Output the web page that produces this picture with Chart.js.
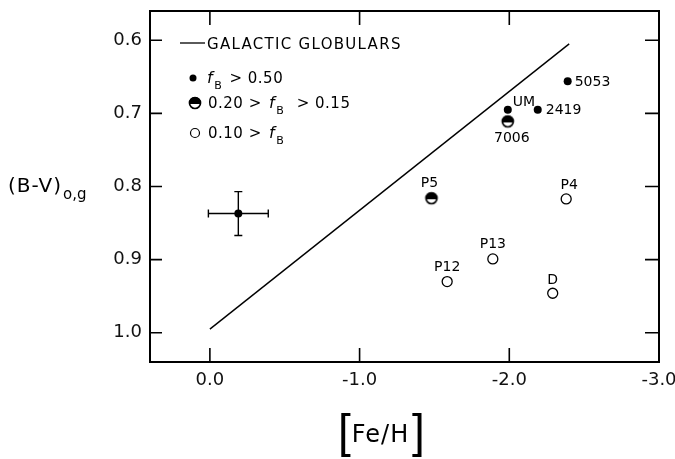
<!DOCTYPE html>
<html>
<head>
<meta charset="utf-8">
<script src="https://cdn.jsdelivr.net/npm/chart.js@4"></script>
<style>
html, body { margin: 0; padding: 0; background: #fff; }
</style>
</head>
<body>
<canvas id="c" width="675" height="459"></canvas>
<script>
// (B-V)o,g against [Fe/H]
const xTicks = [0, -1, -2, -3];
const yTicks = [0.6, 0.7, 0.8, 0.9, 1.0];

const galacticFeH = [0.0, -2.4];
const galacticBV = [0.995, 0.605];

const highNames = ['5053', 'UM', '2419'];
const highFeH = [-2.39, -1.99, -2.19];
const highBV = [0.656, 0.695, 0.695];

const midNames = ['7006', 'P5'];
const midFeH = [-1.99, -1.48];
const midBV = [0.711, 0.816];

const lowNames = ['P4', 'P13', 'P12', 'D'];
const lowFeH = [-2.38, -1.89, -1.585, -2.29];
const lowBV = [0.817, 0.899, 0.930, 0.946];

const errFeH = [-0.19];
const errBV = [0.837];
const errDFeH = [0.2];
const errDBV = [0.03];

// label placement relative to the point: dx, dy, align
const labelPos = {
    '5053': [7, 1, 'left'],
    'UM': [5, -7, 'left'],
    '2419': [8, 1, 'left'],
    '7006': [4, 17, 'center'],
    'P5': [-2, -15, 'center'],
    'P4': [3, -14, 'center'],
    'P13': [0, -15, 'center'],
    'P12': [0, -14, 'center'],
    'D': [0, -13, 'center']
};

const FONT = '"DejaVu Sans", sans-serif';

function pts(xs, ys) {
    return xs.map((x, i) => ({x: x, y: ys[i]}));
}

function halfDot(r) {
    const c = document.createElement('canvas');
    const s = 2 * r + 4;
    c.width = c.height = s;
    const g = c.getContext('2d');
    const m = s / 2;
    g.fillStyle = '#fff';
    g.beginPath(); g.arc(m, m, r, 0, 2 * Math.PI); g.fill();
    g.fillStyle = '#000';
    g.beginPath(); g.arc(m, m, r, Math.PI - 0.15, 2 * Math.PI + 0.15); g.closePath(); g.fill();
    g.lineWidth = 1.7;
    g.strokeStyle = '#000';
    g.beginPath(); g.arc(m, m, r - 0.5, 0, 2 * Math.PI); g.stroke();
    return c;
}

const halfStyle = halfDot(6);

function drawFB(ctx, x, y) {
    // italic f with subscript B, returns new x
    ctx.font = 'italic 16px ' + FONT;
    ctx.fillText('f', x, y);
    x += ctx.measureText('f').width + 1;
    ctx.font = '11px ' + FONT;
    ctx.fillText('B', x, y + 6);
    return x + ctx.measureText('B').width;
}

const decor = {
    id: 'decor',
    afterDraw(chart) {
        const ctx = chart.ctx;
        const a = chart.chartArea;
        const xs = chart.scales.x;
        const ys = chart.scales.y;
        ctx.save();
        ctx.strokeStyle = '#000';
        ctx.fillStyle = '#000';

        // frame
        ctx.lineWidth = 2;
        ctx.strokeRect(a.left, a.top, a.right - a.left, a.bottom - a.top);

        // inward ticks on all four sides
        ctx.lineWidth = 1.6;
        ctx.beginPath();
        xTicks.forEach(v => {
            const px = xs.getPixelForValue(v);
            if (px < a.left || px > a.right - 2) return;
            ctx.moveTo(px, a.bottom); ctx.lineTo(px, a.bottom - 14);
            ctx.moveTo(px, a.top); ctx.lineTo(px, a.top + 14);
        });
        yTicks.forEach(v => {
            const py = ys.getPixelForValue(v);
            ctx.moveTo(a.left, py); ctx.lineTo(a.left + 12, py);
            ctx.moveTo(a.right, py); ctx.lineTo(a.right - 14, py);
        });
        ctx.stroke();

        // error bars
        ctx.lineWidth = 1.4;
        errFeH.forEach((v, i) => {
            const px = xs.getPixelForValue(v);
            const py = ys.getPixelForValue(errBV[i]);
            const x1 = xs.getPixelForValue(v + errDFeH[i]);
            const x2 = xs.getPixelForValue(v - errDFeH[i]);
            const y1 = ys.getPixelForValue(errBV[i] - errDBV[i]);
            const y2 = ys.getPixelForValue(errBV[i] + errDBV[i]);
            ctx.beginPath();
            ctx.moveTo(x1, py); ctx.lineTo(x2, py);
            ctx.moveTo(x1, py - 4); ctx.lineTo(x1, py + 4);
            ctx.moveTo(x2, py - 4); ctx.lineTo(x2, py + 4);
            ctx.moveTo(px, y1); ctx.lineTo(px, y2);
            ctx.moveTo(px - 4, y1); ctx.lineTo(px + 4, y1);
            ctx.moveTo(px - 4, y2); ctx.lineTo(px + 4, y2);
            ctx.stroke();
        });

        // point labels
        ctx.font = '14px ' + FONT;
        ctx.textBaseline = 'middle';
        [[1, highNames], [3, midNames], [4, lowNames]].forEach(([di, names]) => {
            const meta = chart.getDatasetMeta(di);
            names.forEach((n, i) => {
                const el = meta.data[i];
                const p = labelPos[n];
                ctx.textAlign = p[2];
                ctx.fillText(n, el.x + p[0], el.y + p[1]);
            });
        });

        // legend
        const lx = a.left;
        const ly = a.top;
        ctx.textAlign = 'left';
        ctx.textBaseline = 'alphabetic';
        ctx.lineWidth = 1.3;
        ctx.beginPath();
        ctx.moveTo(lx + 30, ly + 32); ctx.lineTo(lx + 55, ly + 32);
        ctx.stroke();
        ctx.font = '15px ' + FONT;
        ctx.letterSpacing = '1.3px';
        ctx.fillText('GALACTIC GLOBULARS', lx + 57, ly + 38);
        ctx.letterSpacing = '0.5px';

        ctx.beginPath(); ctx.arc(lx + 43, ly + 67, 3.5, 0, 2 * Math.PI); ctx.fill();
        let tx = drawFB(ctx, lx + 57, ly + 72);
        ctx.font = '15px ' + FONT;
        ctx.fillText(' > 0.50', tx + 2, ly + 72);

        ctx.drawImage(halfStyle, lx + 45 - halfStyle.width / 2, ly + 92 - halfStyle.height / 2);
        ctx.font = '15px ' + FONT;
        ctx.fillText('0.20 > ', lx + 58, ly + 97);
        tx = drawFB(ctx, lx + 58 + ctx.measureText('0.20 > ').width + 2, ly + 97);
        ctx.font = '15px ' + FONT;
        ctx.fillText('  > 0.15', tx + 2, ly + 97);

        ctx.lineWidth = 1.2;
        ctx.beginPath(); ctx.arc(lx + 45, ly + 122, 4.5, 0, 2 * Math.PI); ctx.stroke();
        ctx.font = '15px ' + FONT;
        ctx.fillText('0.10 > ', lx + 58, ly + 127);
        drawFB(ctx, lx + 58 + ctx.measureText('0.10 > ').width + 2, ly + 127);
        ctx.letterSpacing = '0px';

        // y title (B-V)o,g
        ctx.font = '20px ' + FONT;
        ctx.letterSpacing = '1px';
        ctx.fillText('(B-V)', 8, 192);
        const w = ctx.measureText('(B-V)').width;
        ctx.font = '15px ' + FONT;
        ctx.letterSpacing = '0px';
        ctx.fillText('o,g', 8 + w + 1, 199);

        // x title [Fe/H]
        const cx = (a.left + a.right) / 2 - 24;
        ctx.textAlign = 'center';
        ctx.font = '24px ' + FONT;
        ctx.letterSpacing = '1px';
        ctx.fillText('Fe/H', cx, 442);
        ctx.letterSpacing = '0px';
        ctx.font = '300 46px "Liberation Sans", sans-serif';
        ctx.fillText('[', cx - 36, 447);
        ctx.fillText(']', cx + 38, 447);

        ctx.restore();
    }
};

new Chart(document.getElementById('c'), {
    type: 'scatter',
    data: {
        datasets: [
            {
                label: 'Galactic globulars',
                data: pts(galacticFeH, galacticBV),
                showLine: true,
                borderColor: '#000',
                borderWidth: 1.4,
                pointRadius: 0
            },
            {
                label: 'fB > 0.50',
                data: pts(highFeH, highBV),
                pointStyle: 'circle',
                pointRadius: 4,
                backgroundColor: '#000',
                borderColor: '#000',
                borderWidth: 0
            },
            {
                label: 'mean error',
                data: pts(errFeH, errBV),
                pointStyle: 'circle',
                pointRadius: 4,
                backgroundColor: '#000',
                borderColor: '#000',
                borderWidth: 0
            },
            {
                label: '0.20 > fB > 0.15',
                data: pts(midFeH, midBV),
                pointStyle: halfStyle
            },
            {
                label: '0.10 > fB',
                data: pts(lowFeH, lowBV),
                pointStyle: 'circle',
                pointRadius: 5,
                backgroundColor: '#fff',
                borderColor: '#000',
                borderWidth: 1.3
            }
        ]
    },
    options: {
        responsive: false,
        animation: false,
        devicePixelRatio: 1,
        layout: {padding: {top: 11, right: 16, left: 0, bottom: 0}},
        plugins: {legend: {display: false}, tooltip: {enabled: false}},
        scales: {
            x: {
                type: 'linear',
                reverse: true,
                min: -3.0,
                max: 0.4,
                afterBuildTicks: s => { s.ticks = xTicks.map(v => ({value: v})); },
                afterFit: s => {
                    s.height = 97;
                    s.paddingLeft = 0;
                    s.paddingRight = 0;
                },
                grid: {display: false, drawTicks: false},
                border: {display: false},
                ticks: {
                    autoSkip: false,
                    maxRotation: 0,
                    padding: 8,
                    color: '#111',
                    font: {family: FONT, size: 18},
                    callback: v => (v === 0 ? '0.0' : v.toFixed(1))
                }
            },
            y: {
                type: 'linear',
                reverse: true,
                min: 0.56,
                max: 1.04,
                afterBuildTicks: s => { s.ticks = yTicks.map(v => ({value: v})); },
                afterFit: s => {
                    s.width = 150;
                    s.paddingTop = 0;
                    s.paddingBottom = 0;
                },
                grid: {display: false, drawTicks: false},
                border: {display: false},
                ticks: {
                    padding: 8,
                    color: '#111',
                    font: {family: FONT, size: 18},
                    callback: v => v.toFixed(1)
                }
            }
        }
    },
    plugins: [decor]
});
</script>
</body>
</html>
